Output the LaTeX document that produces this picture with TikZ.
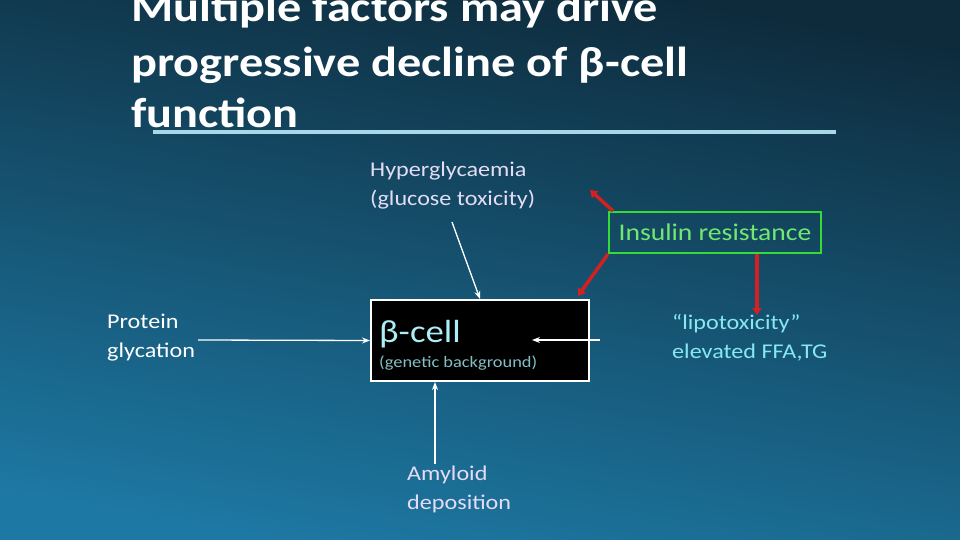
\documentclass[tikz,border=0pt]{standalone}
\usepackage{fontspec}
\setmainfont[FakeStretch=1.15]{Carlito}
\usetikzlibrary{arrows.meta}
\definecolor{bgtop}{HTML}{0E2B3C}
\definecolor{bgbot}{HTML}{1D78A3}
\definecolor{lav}{HTML}{E4DCF4}
\definecolor{cyanT}{HTML}{86E8F2}
\definecolor{grT}{HTML}{72E872}
\definecolor{grB}{HTML}{33DD33}
\definecolor{redA}{HTML}{D42020}
\definecolor{ulin}{HTML}{A8D8E8}
\tikzset{
  lbl/.style={font=\fontsize{21}{29}\selectfont, align=left, inner sep=0pt, anchor=north west},
  warr/.style={draw=white, line width=1.3pt, -{Stealth[length=8pt,width=6pt]}},
  rarr/.style={draw=redA, line width=3.5pt, -{Triangle[length=7pt,width=9pt]}},
  ttl/.style={font=\bfseries\fontsize{42}{44}\selectfont, text=white, inner sep=0pt, anchor=base west}
}
\begin{document}
\begin{tikzpicture}[x=1pt,y=-1pt]
\useasboundingbox (0,0) rectangle (960,540);
\shade[top color=bgtop, bottom color=bgbot, shading angle=-10] (0,0) rectangle (960,540);
\node[ttl] (t1) at (131,22) {Multiple factors may drive};
\node[ttl] (t2) at (131,77) {progressive decline of β-cell};
\node[ttl] (t3) at (131,128) {function};
\draw[ulin, line width=4pt] (153,132) coordinate (u1) -- (836,132) coordinate (u2);
\node[lbl, text=lav] (hyp) at (370,162) {Hyperglycaemia\\(glucose toxicity)};
\node[lbl, text=white] (prot) at (107,314) {Protein\\glycation};
\node[lbl, text=lav] (amy) at (407,466) {Amyloid\\deposition};
\node[lbl, text=cyanT] (lipo) at (672,314) {“lipotoxicity”\\elevated FFA,TG};
\node[draw=grB, line width=2pt, text=grT, font=\fontsize{24}{26}\selectfont, minimum width=212pt, minimum height=41pt, inner sep=0pt] (ins) at (715,232.5) {Insulin resistance};
\node[draw=white, fill=black, line width=2pt, minimum width=218pt, minimum height=81pt, inner sep=0pt] (beta) at (480,340.5) {};
\node[text=cyanT!70!white, font=\fontsize{32}{34}\selectfont, anchor=base west, inner sep=0pt] (bt) at (379,342) {β-cell};
\node[text=cyanT!60!gray, font=\fontsize{16}{18}\selectfont, anchor=base west, inner sep=0pt] (gb) at (379,367) {(genetic background)};
\coordinate (h1) at (452,222);
\draw[warr] (h1) -- (beta.north);
\draw[warr] (198,340) coordinate (p1) -- (beta.west);
\coordinate (l1) at (600,340); \coordinate (l2) at (532,340);
\draw[warr] (l1) -- (l2);
\coordinate (a1) at (435,464);
\draw[warr] (a1) -- (beta.south -| a1);
\coordinate (r1) at (590,190);
\draw[rarr] (ins.north west) ++(5,0) coordinate (r0) -- (r1);
\coordinate (r3) at (578,296);
\draw[rarr] (ins.south west) -- (r3);
\coordinate (r4) at (757,315);
\draw[rarr] (ins.south -| r4) -- (r4);
\end{tikzpicture}
\end{document}
